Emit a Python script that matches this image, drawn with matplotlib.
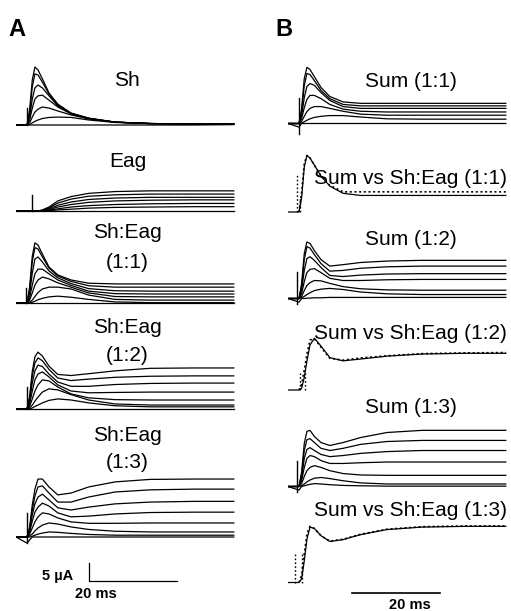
import matplotlib
matplotlib.use("Agg")
import matplotlib.pyplot as plt

plt.rcParams['font.family'] = ['Liberation Sans', 'DejaVu Sans']

W, H, DPI = 511, 611, 100
PX_MS = 4.4   # pixels per ms
PX_UA = 3.6   # pixels per uA

# common time grid (ms)
T = [-2.5, 0, 0.6, 1.2, 1.8, 2.5, 3.5, 5, 7, 10, 14, 20, 28, 38, 47]

# ---- Panel A (uA) ----
SH = [
    [0, 0, 4.2, 12.5, 16.1, 15.3, 12.8, 8.9, 5.8, 3.3, 1.9, 0.8, 0.4, 0.3, 0.3],
    [0, 0, 3.3, 10.6, 14.2, 13.9, 11.9, 8.6, 5.6, 3.3, 1.9, 0.8, 0.4, 0.3, 0.3],
    [0, 0, 2.2, 7.2, 10.3, 11.1, 10.3, 8.1, 5.3, 3.1, 1.8, 0.8, 0.4, 0.3, 0.3],
    [0, 0, 1.4, 4.7, 7.2, 8.1, 8.3, 6.9, 5.0, 3.1, 1.8, 0.8, 0.4, 0.3, 0.3],
    [0, 0, 0.6, 2.2, 3.6, 4.4, 5.0, 4.7, 3.9, 2.8, 1.7, 0.8, 0.4, 0.3, 0.3],
    [0, 0, 0.1, 0.6, 1.0, 1.4, 1.8, 2.1, 2.2, 2.1, 1.4, 0.7, 0.4, 0.3, 0.3],
    [0, 0, 0, 0, 0, 0, 0, 0, 0, 0, 0, 0, 0, 0, 0.1],
]
EAG = [
    [0, 0, 0, 0, 0, 0, 0.3, 1.1, 2.8, 4.0, 4.9, 5.4, 5.6, 5.6, 5.6],
    [0, 0, 0, 0, 0, 0, 0.2, 0.9, 2.2, 3.3, 4.1, 4.5, 4.7, 4.7, 4.7],
    [0, 0, 0, 0, 0, 0, 0.1, 0.6, 1.6, 2.5, 3.2, 3.6, 3.8, 3.8, 3.8],
    [0, 0, 0, 0, 0, 0, 0.1, 0.4, 1.1, 1.8, 2.4, 2.8, 3.0, 3.1, 3.1],
    [0, 0, 0, 0, 0, 0, 0, 0.2, 0.6, 1.1, 1.5, 1.8, 2.0, 2.1, 2.1],
    [0, 0, 0, 0, 0, 0, 0, 0.1, 0.3, 0.5, 0.8, 1.0, 1.1, 1.2, 1.2],
    [0, 0, 0, 0, 0, 0, 0, 0, 0, 0, 0, 0, 0, 0, 0],
]
SHEAG_11 = [
    [0, 0, 4.4, 13.0, 16.7, 16.1, 13.6, 10.0, 7.8, 6.4, 5.5, 5.3, 5.3, 5.3, 5.3],
    [0, 0, 3.6, 11.4, 15.4, 15.0, 12.8, 9.7, 7.5, 6.0, 4.8, 4.4, 4.4, 4.4, 4.4],
    [0, 0, 2.5, 8.3, 12.2, 12.8, 11.4, 8.9, 7.0, 5.4, 4.0, 3.4, 3.3, 3.3, 3.3],
    [0, 0, 1.5, 5.0, 8.1, 9.4, 9.4, 8.1, 6.4, 4.9, 3.3, 2.6, 2.5, 2.5, 2.5],
    [0, 0, 0.8, 2.8, 5.0, 6.4, 7.2, 6.7, 5.6, 4.4, 2.8, 1.8, 1.7, 1.7, 1.7],
    [0, 0, 0.2, 0.8, 1.8, 2.9, 3.9, 4.4, 4.4, 3.9, 2.2, 1.0, 0.8, 0.8, 0.8],
    [0, 0, 0, 0.2, 0.5, 0.9, 1.3, 1.7, 1.9, 1.6, 1.0, 0.3, 0.1, 0.1, 0.1],
    [0, 0, 0, 0, 0, 0, 0, 0, 0, 0, 0, 0, 0, 0, 0],
]
SHEAG_12 = [
    [0, 0, 3.5, 10.5, 14.5, 15.8, 14.7, 11.9, 9.6, 9.3, 9.8, 10.6, 11.3, 11.4, 11.4],
    [0, 0, 3.0, 9.2, 12.8, 14.2, 13.4, 11.0, 8.6, 7.9, 8.3, 8.8, 9.1, 9.2, 9.2],
    [0, 0, 2.2, 7.2, 10.6, 12.2, 11.8, 9.7, 7.5, 6.3, 6.3, 6.8, 7.1, 7.2, 7.2],
    [0, 0, 1.4, 5.0, 8.1, 9.7, 10.3, 8.9, 6.7, 5.0, 4.5, 4.6, 4.7, 4.7, 4.7],
    [0, 0, 0.8, 2.8, 5.0, 6.7, 8.1, 7.8, 6.1, 4.2, 3.1, 2.6, 2.5, 2.5, 2.5],
    [0, 0, 0.3, 1.1, 2.2, 3.3, 4.7, 5.6, 5.3, 4.0, 2.5, 1.4, 1.1, 1.1, 1.1],
    [0, 0, 0, 0.3, 0.7, 1.1, 1.7, 2.4, 2.8, 2.5, 1.7, 0.9, 0.6, 0.6, 0.6],
    [0, 0, 0, 0, 0, 0, 0, 0, 0, 0, 0, 0, 0, 0, 0],
]
SHEAG_13 = [
    [0, 0, 2.8, 8.9, 13.3, 16.1, 16.1, 13.9, 11.7, 12.2, 13.9, 15.3, 16.0, 16.1, 16.1],
    [0, 0, 2.4, 7.5, 11.4, 13.9, 14.2, 12.2, 9.7, 9.7, 11.1, 12.5, 13.1, 13.3, 13.3],
    [0, 0, 1.9, 6.1, 9.2, 11.1, 11.9, 10.3, 8.1, 7.5, 8.3, 9.2, 9.7, 9.9, 9.9],
    [0, 0, 1.4, 4.4, 6.9, 8.3, 9.4, 8.6, 6.7, 5.6, 5.8, 6.4, 6.8, 6.9, 6.9],
    [0, 0, 0.8, 2.5, 4.2, 5.6, 6.7, 6.4, 5.3, 4.2, 3.8, 3.8, 3.9, 3.9, 3.9],
    [0, 0, 0.3, 0.8, 1.7, 2.5, 3.3, 3.9, 3.6, 2.8, 2.1, 1.6, 1.4, 1.4, 1.4],
    [0, 0, 0, 0.2, 0.5, 0.8, 1.1, 1.4, 1.3, 1.0, 0.7, 0.5, 0.5, 0.5, 0.5],
    [0, -1.7, -0.8, 0, 0, 0, 0, 0, 0, 0, 0, 0, 0, 0, 0],
]

# ---- Panel B (uA) ----
SUM_11 = [
    [0, 0, 4.2, 12.5, 15.6, 15.0, 13.0, 10.0, 7.5, 6.0, 5.6, 5.6, 5.6, 5.6, 5.6],
    [0, 0, 3.3, 10.6, 13.9, 13.6, 11.9, 9.2, 6.9, 5.3, 4.9, 4.9, 4.9, 4.9, 4.9],
    [0, 0, 2.2, 7.2, 10.3, 11.1, 10.6, 8.6, 6.4, 4.7, 4.2, 4.2, 4.2, 4.2, 4.2],
    [0, 0, 1.4, 4.4, 6.7, 7.8, 7.8, 6.9, 5.3, 4.0, 3.4, 3.2, 3.2, 3.2, 3.2],
    [0, 0, 0.6, 2.0, 3.3, 4.2, 4.7, 4.7, 4.2, 3.4, 2.6, 2.3, 2.3, 2.3, 2.3],
    [0, 0, 0.1, 0.5, 0.9, 1.3, 1.7, 2.0, 2.2, 2.2, 1.8, 1.3, 1.2, 1.2, 1.2],
    [0, -1.0, 0, 0, 0, 0, 0, 0, 0, 0, 0, 0, 0, 0, 0],
]
SUM_12 = [
    [0, 0, 4.2, 12.5, 15.7, 15.3, 13.3, 10.8, 9.0, 9.4, 10.0, 10.4, 10.6, 10.6, 10.6],
    [0, 0, 3.4, 10.8, 14.4, 14.0, 12.2, 9.7, 7.6, 7.8, 8.4, 8.8, 9.0, 9.0, 9.0],
    [0, 0, 2.4, 7.8, 11.1, 11.6, 10.6, 8.6, 6.4, 6.1, 6.5, 6.8, 6.9, 6.9, 6.9],
    [0, 0, 1.4, 4.7, 7.2, 8.1, 8.3, 7.2, 5.6, 5.0, 5.0, 5.2, 5.3, 5.3, 5.3],
    [0, 0, 0.6, 2.2, 3.6, 4.4, 5.0, 4.9, 4.2, 3.3, 2.7, 2.4, 2.3, 2.3, 2.3],
    [0, 0, 0.2, 0.6, 1.1, 1.6, 2.2, 2.6, 2.8, 2.5, 1.8, 1.3, 1.1, 1.1, 1.1],
    [0, -1.0, 0, 0, 0.1, 0.1, 0.2, 0.2, 0.3, 0.3, 0.3, 0.3, 0.3, 0.3, 0.3],
]
SUM_13 = [
    [0, 0, 4.0, 12.0, 15.3, 15.6, 13.9, 12.2, 11.4, 12.2, 13.6, 15.0, 15.6, 15.6, 15.6],
    [0, 0, 3.3, 10.0, 13.0, 13.3, 12.2, 10.6, 10.0, 10.6, 11.7, 12.5, 12.8, 12.8, 12.8],
    [0, 0, 2.5, 7.8, 10.3, 10.8, 10.0, 8.9, 8.3, 8.6, 9.2, 9.7, 10.0, 10.0, 10.0],
    [0, 0, 1.7, 5.3, 7.8, 8.6, 8.3, 7.2, 6.4, 6.4, 6.6, 6.8, 6.8, 6.8, 6.8],
    [0, 0, 0.8, 2.8, 4.4, 5.3, 5.8, 5.3, 4.4, 3.6, 3.2, 3.1, 3.1, 3.1, 3.1],
    [0, 0, 0.2, 0.7, 1.3, 1.8, 2.3, 2.5, 2.2, 1.6, 1.0, 0.7, 0.7, 0.7, 0.7],
    [0, -1.0, 0, 0.2, 0.4, 0.6, 0.8, 0.7, 0.5, 0.3, 0.2, 0.1, 0.1, 0.1, 0.1],
]
COMP_11_SOLID = [0, 0, 4.0, 12.5, 15.7, 15.0, 13.0, 10.0, 7.2, 5.2, 4.6, 4.6, 4.6, 4.6, 4.6]
COMP_11_DOTTED = [0, 0, 5.5, 13.5, 15.7, 15.0, 13.0, 10.0, 7.4, 5.6, 5.6, 5.6, 5.6, 5.6, 5.6]
COMP_12_SOLID = [0, 0, 0.5, 3.5, 8.0, 12.5, 14.4, 12.2, 9.0, 8.1, 8.6, 9.4, 10.0, 10.2, 10.2]
COMP_12_DOTTED = [0, 0, 1.5, 5.5, 10.0, 13.9, 14.2, 11.9, 8.8, 8.3, 8.9, 9.5, 10.1, 10.3, 10.4]
COMP_13_SOLID = [0, 0, 1.0, 6.0, 12.0, 15.4, 15.0, 13.0, 11.4, 11.9, 13.3, 14.7, 15.4, 15.6, 15.6]
COMP_13_DOTTED = [0, 0, 2.0, 8.0, 13.5, 15.6, 15.0, 13.0, 11.5, 12.0, 13.4, 14.8, 15.5, 15.7, 15.7]

# capacitive artifacts: (time ms, low uA, high uA)
ART_SH = (0.0, 0.0, 4.7)
ART_EAG = (1.1, 0.0, 4.4)
ART_11 = (-0.2, 0.0, 4.2)
ART_12 = (0.0, 0.0, 6.1)
ART_13 = (0.0, -1.7, 6.7)
ART_SUM11 = (0.0, -2.8, 7.2)
ART_SUM12 = (-0.4, -1.4, 7.3)
ART_SUM13 = (-0.4, -1.4, 7.2)
ART_C11 = [(-0.5, 0.0, 10.2), (0.2, 0.0, 4.0)]
ART_C12 = [(0.3, 0.0, 4.7), (1.3, 0.0, 4.7)]
ART_C13 = [(-0.8, 0.0, 8.0), (0.6, 0.0, 8.0)]

SCALE_MS = 20
SCALE_UA = 5

fig = plt.figure(figsize=(W / DPI, H / DPI), dpi=DPI)


def panel(x0, y0, tmin=-2.5, tmax=47.5, imin=-4.0, imax=18.0):
    left = (x0 + tmin * PX_MS) / W
    right = (x0 + tmax * PX_MS) / W
    bottom = 1 - (y0 - imin * PX_UA) / H
    top = 1 - (y0 - imax * PX_UA) / H
    ax = fig.add_axes([left, bottom, right - left, top - bottom])
    ax.set_xlim(tmin, tmax)
    ax.set_ylim(imin, imax)
    ax.axis('off')
    return ax


def family(ax, traces, art, lw=0.9):
    for tr in traces:
        ax.plot(T, tr, color='black', lw=lw, solid_joinstyle='round')
    ax.plot([art[0], art[0]], [art[1], art[2]], color='black', lw=1.0)


def text(x, y, s, size=15, weight='normal', ha='center'):
    fig.text(x / W, 1 - y / H, s, fontsize=size, fontweight=weight,
             ha=ha, va='baseline', color='black')


AX0, BX0 = 27, 299

family(panel(AX0, 125), SH, ART_SH)
family(panel(AX0, 211), EAG, ART_EAG)
family(panel(AX0, 303), SHEAG_11, ART_11)
family(panel(AX0, 409), SHEAG_12, ART_12)
family(panel(AX0, 537), SHEAG_13, ART_13)

family(panel(BX0, 123.5), SUM_11, ART_SUM11)
family(panel(BX0, 298.5), SUM_12, ART_SUM12)
family(panel(BX0, 486.5), SUM_13, ART_SUM13)

for y0, solid, dotted, arts in [(212, COMP_11_SOLID, COMP_11_DOTTED, ART_C11),
                                (390, COMP_12_SOLID, COMP_12_DOTTED, ART_C12),
                                (582.5, COMP_13_SOLID, COMP_13_DOTTED, ART_C13)]:
    ax = panel(BX0, y0)
    ax.plot(T, solid, color='black', lw=0.9)
    ax.plot(T[1:], dotted[1:], color='black', lw=1.2, ls=(0, (1.2, 1.6)))
    for a in arts:
        ax.plot([a[0], a[0]], [a[1], a[2]], color='black', lw=1.0, ls=(0, (1.2, 1.6)))

# scale bars
sa = panel(89, 581, tmin=-1, tmax=25, imin=-1, imax=7)
sa.plot([0, 0, SCALE_MS], [SCALE_UA, 0, 0], color='black', lw=0.9)
sb = panel(352, 593, tmin=-1, tmax=25, imin=-1, imax=7)
sb.plot([0, SCALE_MS], [0, 0], color='black', lw=1.2)

# labels
text(8, 36, 'A', size=17, weight='bold', ha='left')
text(275, 36, 'B', size=17, weight='bold', ha='left')

text(127, 86, 'Sh')
text(128, 167, 'Eag')
text(127, 238, 'Sh:Eag')
text(127, 268, '(1:1)')
text(127, 333, 'Sh:Eag')
text(127, 361, '(1:2)')
text(127, 441, 'Sh:Eag')
text(127, 468, '(1:3)')

text(411, 87, 'Sum (1:1)')
text(410, 184, 'Sum vs Sh:Eag (1:1)')
text(411, 245, 'Sum (1:2)')
text(410, 339, 'Sum vs Sh:Eag (1:2)')
text(411, 413, 'Sum (1:3)')
text(410, 516, 'Sum vs Sh:Eag (1:3)')

text(42, 580, '5 \u00b5A', size=10.5, weight='bold', ha='left')
text(75, 598, '20 ms', size=10.5, weight='bold', ha='left')
text(410, 609, '20 ms', size=10.5, weight='bold')

fig.savefig('out.png', dpi=DPI, facecolor='white')
